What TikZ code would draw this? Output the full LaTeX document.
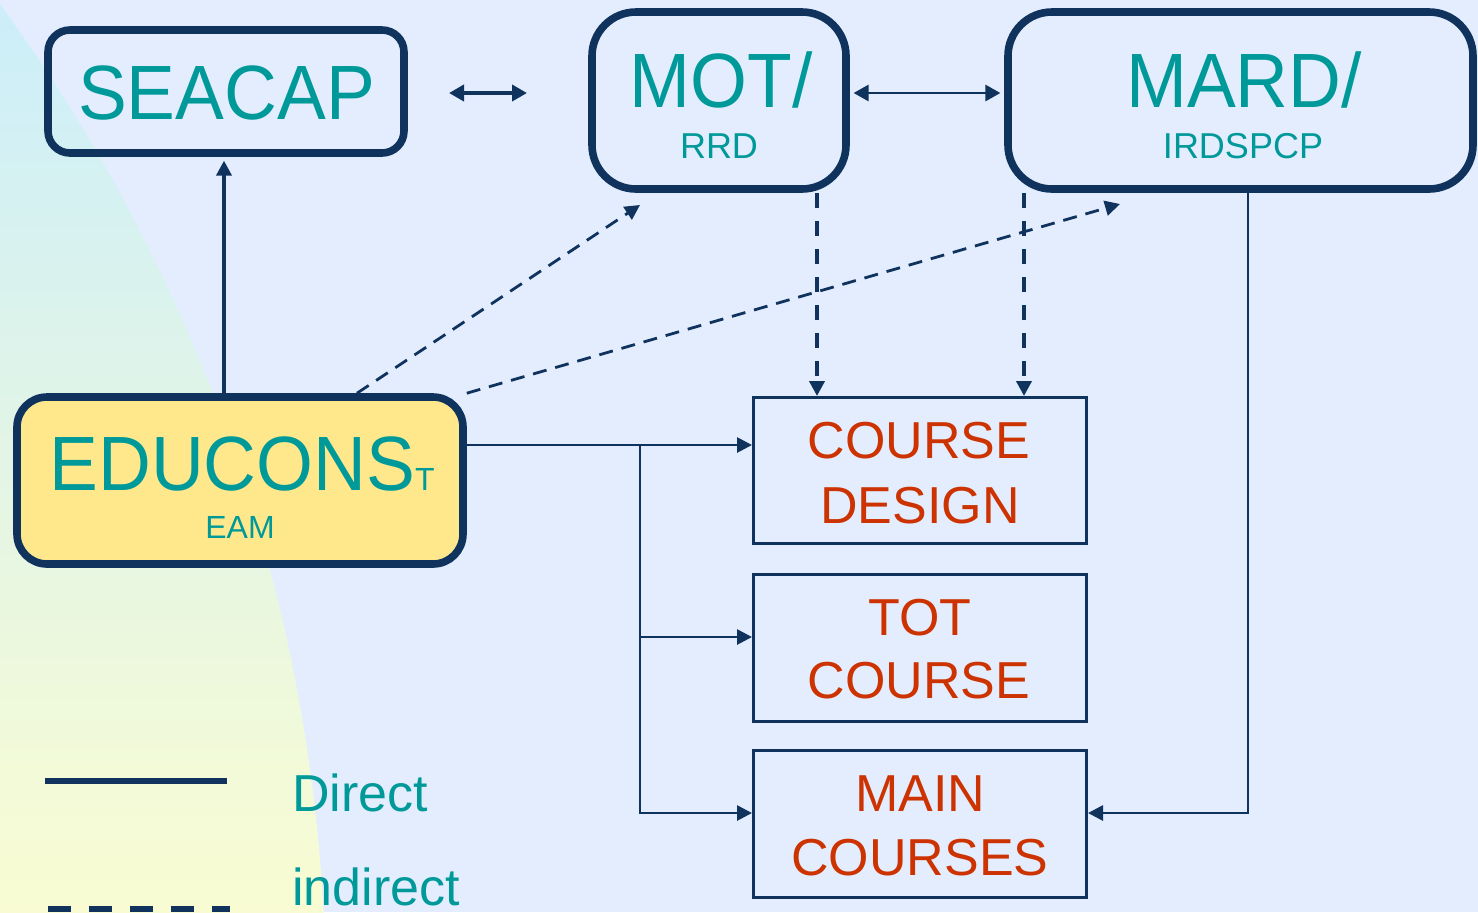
\documentclass[tikz,border=0pt]{standalone}
\usepackage{fontspec}
\setmainfont{Liberation Sans}
\usetikzlibrary{arrows.meta}
\definecolor{navy}{RGB}{16,51,94}
\definecolor{tealtxt}{RGB}{0,153,153}
\definecolor{redtxt}{RGB}{204,51,0}
\definecolor{bgblue}{RGB}{227,237,254}
\definecolor{gtop}{RGB}{204,238,250}
\definecolor{gmid}{RGB}{226,244,232}
\definecolor{gbot}{RGB}{249,252,210}
\definecolor{yellowfill}{RGB}{255,232,140}
\newcommand{\narrowbig}[1]{\scalebox{0.95}[1]{#1}}
\begin{document}
\begin{tikzpicture}[x=0.5pt,y=-0.5pt,
  tbig/.style={font=\fontsize{38.5}{46}\selectfont, text=tealtxt, inner sep=0pt, anchor=base},
  tsmall/.style={font=\fontsize{18}{22}\selectfont, text=tealtxt, inner sep=0pt, anchor=base},
  tred/.style={font=\fontsize{26}{31}\selectfont, text=redtxt, inner sep=0pt, anchor=base},
  tleg/.style={font=\fontsize{26}{31}\selectfont, text=tealtxt, inner sep=0pt, anchor=base west},
  rbox/.style={draw=navy, line width=3.8pt, inner sep=0pt},
  sbox/.style={draw=navy, line width=1.5pt, inner sep=0pt, minimum width=166.5pt},
  arr/.style={-{Triangle[length=7.5pt,width=7.5pt]}},
  dbl/.style={{Triangle[length=7.5pt,width=8pt]}-{Triangle[length=7.5pt,width=8pt]}},
  solidc/.style={draw=navy, line width=1.4pt},
  dshdiag/.style={draw=navy, line width=1.4pt, dash pattern=on 7pt off 4.5pt},
  dshvert/.style={draw=navy, line width=2pt, dash pattern=on 7.5pt off 6.5pt},
]
\useasboundingbox (0,0) rectangle (1478,912);
% background
\fill[bgblue] (0,0) rectangle (1478,912);
\begin{scope}
  \clip (-1366,1003) circle [radius=846pt];
  \shade[top color=gtop, middle color=gmid, bottom color=gbot] (0,0) rectangle (1478,912);
\end{scope}

% boxes
\node[rbox, rounded corners=11pt, minimum width=178pt, minimum height=61.5pt] (seacap) at (226,91.5) {};
\node[rbox, rounded corners=22pt, minimum width=127pt, minimum height=88.5pt] (mot) at (719,100.5) {};
\node[rbox, rounded corners=22pt, minimum width=232.5pt, minimum height=88.5pt] (mard) at (1240.5,100.5) {};
\node[rbox, fill=yellowfill, rounded corners=15pt, minimum width=223pt, minimum height=83.5pt] (educ) at (240,480.5) {};
\node[sbox, minimum height=73pt] (cd) at (920,470.5) {};
\node[sbox, minimum height=73.5pt] (tot) at (920,648) {};
\node[sbox, minimum height=73.5pt] (main) at (920,824) {};

% texts
\node[tbig] (tseacap) at (226.5,119) {\narrowbig{SEACAP}};
\node[tbig] (tmot) at (721,107) {\narrowbig{MOT/}};
\node[tsmall] (trrd) at (719,158) {RRD};
\node[tbig] (tmard) at (1244,107) {\narrowbig{MARD/}};
\node[tsmall] (tirds) at (1243,158) {IRDSPCP};
\node[tbig, anchor=base west] (teduc) at (49,490) {\narrowbig{EDUCONS}\fontsize{16}{19}\selectfont T};
\node[tsmall, font=\fontsize{16}{19}\selectfont] (team) at (240,538) {EAM};
\node[tred] (tcd1) at (919,458) {COURSE};
\node[tred] (tcd2) at (920,523) {DESIGN};
\node[tred] (ttot1) at (920,635) {TOT};
\node[tred] (ttot2) at (919,698) {COURSE};
\node[tred] (tmain1) at (920,811) {MAIN};
\node[tred] (tmain2) at (920,875) {COURSES};
\node[tleg] (tdirect) at (292,811) {Direct};
\node[tleg] (tindirect) at (292,905) {indirect};

% helper coordinates
\coordinate (da1) at (449,93);
\coordinate (da2) at (527,93);
\coordinate (r93) at (0,93);
\coordinate (c224) at (224,0);
\coordinate (c357) at (357,0);
\coordinate (t1) at (640,205);
\coordinate (t2) at (1120,204);
\coordinate (c817) at (817,0);
\coordinate (c1024) at (1024,0);
\coordinate (r445) at (0,445);
\coordinate (j1) at (640,445);
\coordinate (r637) at (0,637);
\coordinate (r813) at (0,813);
\coordinate (c1248) at (1248,0);

% connectors
\draw[navy, line width=2.2pt, dbl] (da1) -- (da2);
\draw[solidc, dbl, shorten <=1.9pt, shorten >=1.9pt] (mot.east |- r93) -- (mard.west |- r93);
\draw[navy, line width=1.8pt, arr, shorten >=1.9pt] (educ.north -| c224) -- (seacap.south -| c224);
\draw[dshdiag, arr] (educ.north -| c357) -- (t1);
\draw[dshdiag, arr] (educ.north east) -- (t2);
\draw[dshvert, arr] (mot.south -| c817) -- (cd.north -| c817);
\draw[dshvert, arr] (mard.south -| c1024) -- (cd.north -| c1024);
\draw[solidc, arr] (educ.east |- r445) -- (cd.west |- r445);
\draw[solidc, arr] (j1) |- (main.west |- r813);
\draw[solidc, arr] (j1 |- r637) -- (tot.west |- r637);
\draw[solidc, arr] (mard.south -| c1248) |- (main.east |- r813);

% legend
\coordinate (l1a) at (45,781);
\coordinate (l1b) at (227,781);
\coordinate (l2a) at (48,909);
\coordinate (l2b) at (230,909);
\draw[navy, line width=3pt] (l1a) -- (l1b);
\draw[navy, line width=3pt, dash pattern=on 11.5pt off 9pt] (l2a) -- (l2b);
\end{tikzpicture}
\end{document}
